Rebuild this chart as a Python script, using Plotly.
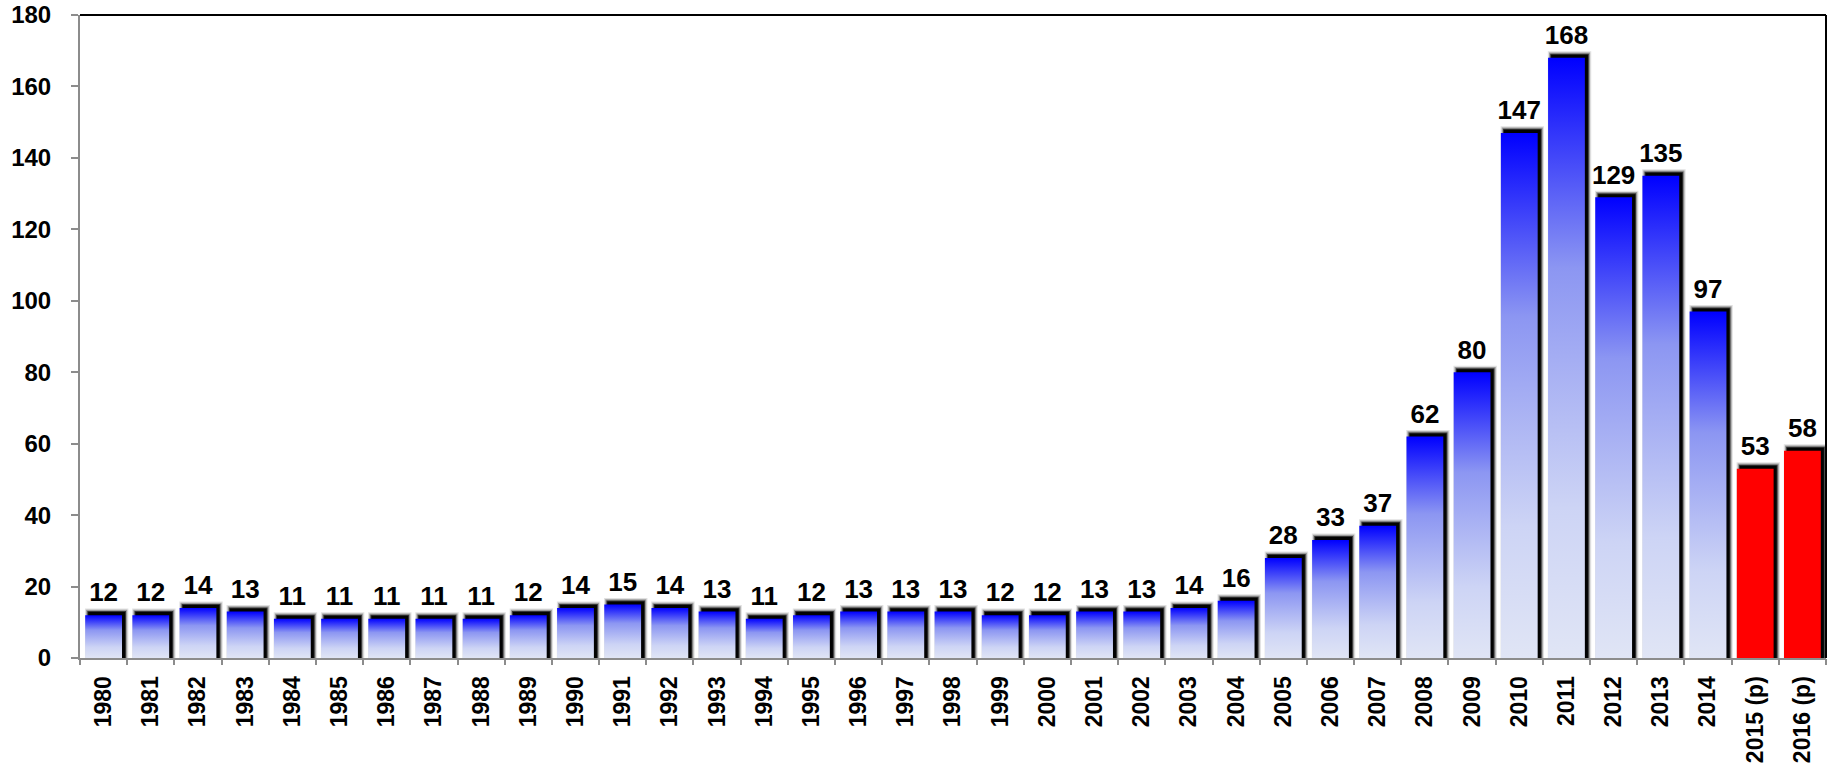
import plotly.graph_objects as go

years = ["1980", "1981", "1982", "1983", "1984", "1985", "1986", "1987", "1988", "1989",
         "1990", "1991", "1992", "1993", "1994", "1995", "1996", "1997", "1998", "1999",
         "2000", "2001", "2002", "2003", "2004", "2005", "2006", "2007", "2008", "2009",
         "2010", "2011", "2012", "2013", "2014", "2015 (p)", "2016 (p)"]
values = [12, 12, 14, 13, 11, 11, 11, 11, 11, 12,
          14, 15, 14, 13, 11, 12, 13, 13, 13, 12,
          12, 13, 13, 14, 16, 28, 33, 37, 62, 80,
          147, 168, 129, 135, 97, 53, 58]
projected = [y.endswith("(p)") for y in years]

FONT = "Liberation Sans, Arial, sans-serif"
BAR_W = 0.78
SH_DX = 0.065   # shadow offset (x units)
SH_DY = 0.85    # shadow offset (y units)
BLUE_SCALE = [[0, "#e0e5f5"], [0.25, "#cdd4f5"], [0.65, "#8c96f2"], [1, "#0000ff"]]

fig = go.Figure()

# shadows (blurred look via layered translucent polygons)
for grow, col in [(0.07, "rgba(0,0,0,0.12)"), (0.045, "rgba(0,0,0,0.3)"),
                  (0.02, "rgba(0,0,0,0.65)"), (0.0, "rgba(0,0,0,0.95)")]:
    xs, ys = [], []
    for i, v in enumerate(values):
        x0 = i - BAR_W / 2 + SH_DX - grow
        x1 = i + BAR_W / 2 + SH_DX + grow
        y1 = v + SH_DY + grow * 14
        xs += [x0, x0, x1, x1, x0, None]
        ys += [0, y1, y1, 0, 0, None]
    fig.add_trace(go.Scatter(x=xs, y=ys, mode="lines", fill="toself", fillcolor=col,
                             line=dict(width=0), hoverinfo="skip", showlegend=False))

# bars
for i, (v, p) in enumerate(zip(values, projected)):
    x0, x1 = i - BAR_W / 2, i + BAR_W / 2
    kw = dict(x=[x0, x0, x1, x1, x0], y=[0, v, v, 0, 0], mode="lines", fill="toself",
              line=dict(width=0), showlegend=False, name=years[i],
              hovertemplate=f"{years[i]}: {v}<extra></extra>")
    if p:
        fig.add_trace(go.Scatter(fillcolor="#ff0000", **kw))
    else:
        fig.add_trace(go.Scatter(fillcolor="#0000ff",
                                 fillgradient=dict(type="vertical", colorscale=BLUE_SCALE,
                                                   start=0, stop=v), **kw))

# value labels
fig.add_trace(go.Scatter(x=list(range(len(values))), y=[v + 2.0 for v in values],
                         mode="text", text=[str(v) for v in values], textposition="top center",
                         textfont=dict(family=FONT, size=26, color="black", weight=700),
                         hoverinfo="skip", showlegend=False))

n = len(values)
fig.update_layout(
    width=1837, height=766,
    margin=dict(l=80, r=11, t=15, b=108),
    plot_bgcolor="white", paper_bgcolor="white",
    xaxis=dict(range=[-0.5, n - 0.5], tickmode="array", tickvals=list(range(n)), ticktext=years,
               tickangle=-90, ticks="", showgrid=False, zeroline=False, automargin=False,
               showline=True, linecolor="#8c8c8c", linewidth=2,
               tickfont=dict(family=FONT, size=23, color="black", weight=700),
               ticklabelstandoff=7),
    xaxis2=dict(range=[-0.5, n - 0.5], overlaying="x", anchor="y", side="bottom",
                tickmode="array", tickvals=[i - 0.5 for i in range(n + 1)],
                ticks="outside", ticklen=6, tickwidth=2, tickcolor="#8c8c8c", automargin=False,
                showticklabels=False, showgrid=False, zeroline=False, showline=False),
    yaxis=dict(range=[0, 180], dtick=20, ticks="outside", ticklen=7, tickwidth=2,
               tickcolor="#8c8c8c", showgrid=False, zeroline=False, automargin=False,
               showline=True, linecolor="#8c8c8c", linewidth=2, ticklabeloverflow="allow",
               tickfont=dict(family=FONT, size=24, color="black", weight=700),
               ticklabelstandoff=15),
    shapes=[
        dict(type="line", xref="x domain", yref="y domain", x0=0, x1=1, y0=1, y1=1,
             line=dict(color="black", width=2)),
        dict(type="line", xref="x domain", yref="y domain", x0=1, x1=1, y0=0, y1=1,
             line=dict(color="black", width=2)),
    ],
)
# invisible trace on xaxis2 so its boundary ticks render
fig.add_trace(go.Scatter(x=[0], y=[0], xaxis="x2", mode="markers", marker=dict(opacity=0),
                         hoverinfo="skip", showlegend=False))

fig.write_html("out.html", config={"displayModeBar": False},
               post_script="document.body.style.margin='0';document.body.style.overflow='hidden';")
